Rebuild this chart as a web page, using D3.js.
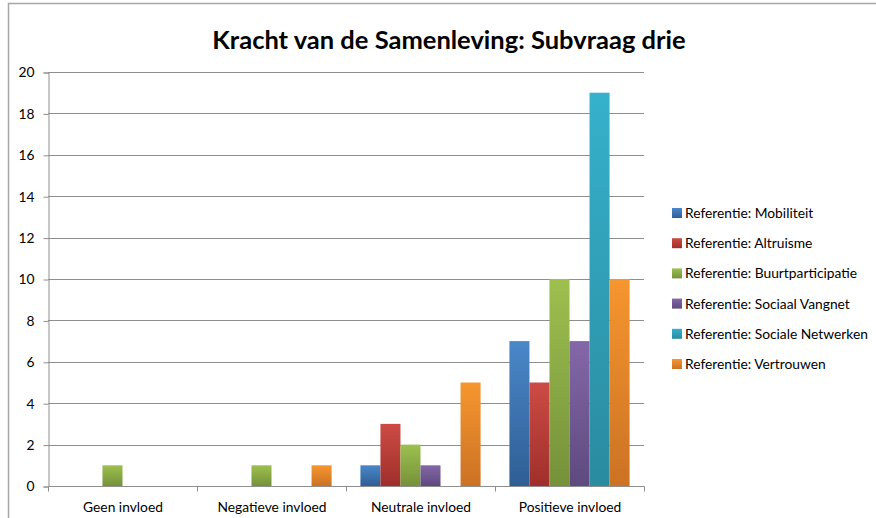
<!DOCTYPE html>
<html>
<head>
<meta charset="utf-8">
<script src="https://cdn.jsdelivr.net/npm/d3@7"></script>
<style>
  html, body { margin: 0; padding: 0; background: #fff; }
  svg { display: block; font-family: Lato, "Open Sans", sans-serif; }
</style>
</head>
<body>
<script>
const categories = ["Geen invloed", "Negatieve invloed", "Neutrale invloed", "Positieve invloed"];
const seriesNames = [
  "Referentie: Mobiliteit",
  "Referentie: Altruisme",
  "Referentie: Buurtparticipatie",
  "Referentie: Sociaal Vangnet",
  "Referentie: Sociale Netwerken",
  "Referentie: Vertrouwen"
];
const mobiliteit = [0, 0, 1, 7];
const altruisme = [0, 0, 3, 5];
const buurtparticipatie = [1, 1, 2, 10];
const sociaalVangnet = [0, 0, 1, 7];
const socialeNetwerken = [0, 0, 0, 19];
const vertrouwen = [0, 1, 5, 10];
const yTicks = [0, 2, 4, 6, 8, 10, 12, 14, 16, 18, 20];

const seriesValues = [mobiliteit, altruisme, buurtparticipatie, sociaalVangnet, socialeNetwerken, vertrouwen];
// top / bottom colours of the bar gradients
const colors = [
  ["#4a87c9", "#2f5e94"],
  ["#cd4b45", "#9f2f2b"],
  ["#9dc04f", "#75913a"],
  ["#8467a8", "#5e4a7e"],
  ["#36b1cc", "#2a8b9f"],
  ["#f6962f", "#cb7224"]
];

const W = 876, H = 518;
const svg = d3.select("body").append("svg").attr("width", W).attr("height", H);

// chart border
svg.append("rect")
  .attr("x", 8.5).attr("y", 3.5).attr("width", W + 10).attr("height", H + 10)
  .attr("fill", "none").attr("stroke", "#a6a6a6").attr("stroke-width", 1.5);

const defs = svg.append("defs");
colors.forEach((c, i) => {
  const g = defs.append("linearGradient").attr("id", "g" + i)
    .attr("x1", 0).attr("y1", 0).attr("x2", 0).attr("y2", 1);
  g.append("stop").attr("offset", "0%").attr("stop-color", c[0]);
  g.append("stop").attr("offset", "100%").attr("stop-color", c[1]);
});

const plotLeft = 48, plotRight = 644, plotTop = 72, plotBottom = 486;

const x = d3.scaleBand().domain(categories).range([plotLeft, plotRight]).paddingInner(0).paddingOuter(0);
const xs = d3.scaleBand().domain(d3.range(seriesNames.length)).range([0, x.bandwidth()]).paddingOuter(0.72).paddingInner(0);
const y = d3.scaleLinear().domain([0, 20]).range([plotBottom, plotTop]);

svg.append("text")
  .attr("x", 449).attr("y", 49)
  .attr("text-anchor", "middle")
  .attr("font-size", 25.5).attr("font-weight", "bold").attr("fill", "#000")
  .text("Kracht van de Samenleving: Subvraag drie");

// gridlines
svg.append("g").selectAll("line").data(yTicks.filter(d => d > 0)).join("line")
  .attr("x1", plotLeft).attr("x2", plotRight)
  .attr("y1", d => Math.round(y(d)) + 0.5).attr("y2", d => Math.round(y(d)) + 0.5)
  .attr("stroke", "#8e8e8e").attr("stroke-width", 1);

// y axis
const yAxis = svg.append("g").attr("transform", `translate(${plotLeft + 0.5},0.5)`)
  .call(d3.axisLeft(y).tickValues(yTicks).tickSize(5).tickPadding(9));
yAxis.select(".domain").attr("stroke", "#8e8e8e");
yAxis.selectAll(".tick line").attr("stroke", "#8e8e8e");
yAxis.selectAll("text").attr("font-size", 13.8).attr("fill", "#000").attr("font-family", "Lato, sans-serif");

// bars
const groups = svg.append("g").selectAll("g").data(categories).join("g")
  .attr("transform", d => `translate(${x(d)},0)`);
groups.selectAll("rect")
  .data((d, ci) => seriesValues.map((vals, si) => ({ si, v: vals[ci] })))
  .join("rect")
  .attr("x", d => xs(d.si))
  .attr("width", xs.bandwidth())
  .attr("y", d => y(d.v))
  .attr("height", d => y(0) - y(d.v))
  .attr("fill", d => `url(#g${d.si})`);

// x axis
const xAxis = svg.append("g").attr("transform", `translate(0.5,${plotBottom + 0.5})`);
xAxis.append("line").attr("x1", plotLeft).attr("x2", plotRight).attr("stroke", "#8e8e8e");
xAxis.selectAll(".sep").data(d3.range(categories.length + 1)).join("line")
  .attr("class", "sep")
  .attr("x1", i => plotLeft + i * x.bandwidth()).attr("x2", i => plotLeft + i * x.bandwidth())
  .attr("y1", 0).attr("y2", 5).attr("stroke", "#8e8e8e");
xAxis.selectAll("text").data(categories).join("text")
  .attr("x", d => x(d) + x.bandwidth() / 2).attr("y", 25)
  .attr("text-anchor", "middle").attr("font-size", 13.8).attr("fill", "#000")
  .text(d => d);

// legend
const legend = svg.append("g").attr("transform", "translate(672,213)");
const items = legend.selectAll("g").data(seriesNames).join("g")
  .attr("transform", (d, i) => `translate(0,${i * 30.2})`);
items.append("rect").attr("x", 0).attr("y", -5).attr("width", 10).attr("height", 10)
  .attr("fill", (d, i) => `url(#g${i})`);
items.append("text").attr("x", 13).attr("y", 5)
  .attr("font-size", 13.8).attr("fill", "#000").text(d => d);
</script>
</body>
</html>
